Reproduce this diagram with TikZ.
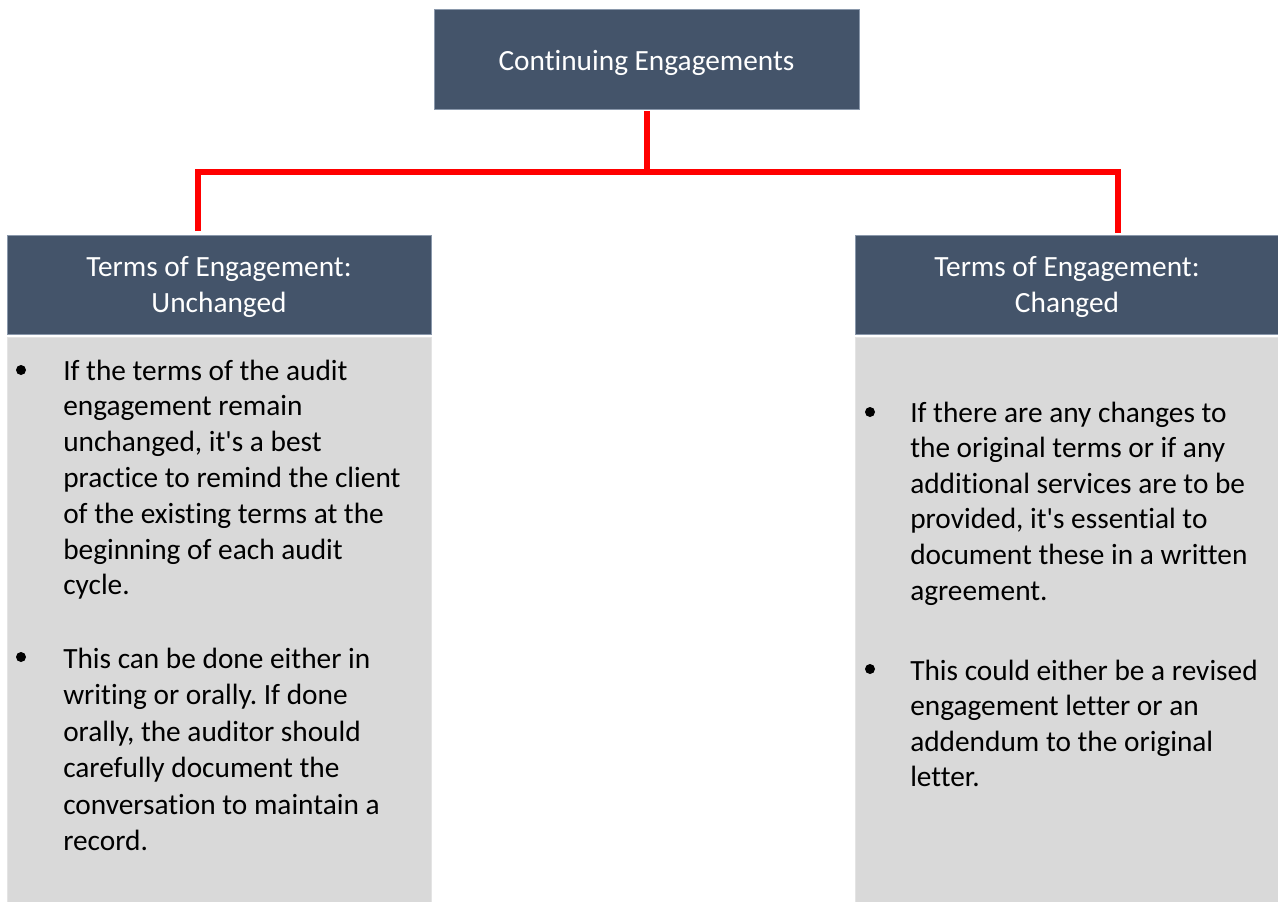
\documentclass[tikz,border=0pt]{standalone}
\usepackage{fontspec}
\setmainfont{Carlito}[Ligatures=NoCommon]
\definecolor{hdr}{HTML}{44546A}
\definecolor{hdredge}{HTML}{8A98AB}
\definecolor{bdy}{HTML}{D9D9D9}
\definecolor{bdyedge}{HTML}{E4E4E4}
\begin{document}
\frenchspacing
\begin{tikzpicture}[x=0.75pt,y=-0.75pt,
  hbox/.style={rectangle, fill=hdr, draw=hdredge, line width=0.6pt, inner sep=0},
  bbox/.style={rectangle, fill=bdy, draw=bdyedge, line width=0.6pt, inner sep=0},
  htext/.style={text=white, font=\fontsize{22}{26}\selectfont, anchor=base, inner sep=0},
  btext/.style={text=black, font=\fontsize{22}{26}\selectfont, anchor=base west, inner sep=0},
  bul/.style={circle, fill=black, minimum size=7.5pt, inner sep=0},
  redline/.style={draw=red, line width=4.1pt}]
\fill[white] (0,0) rectangle (1278,901);
\useasboundingbox (0,0) rectangle (1278,901);

% boxes
\node[hbox, minimum width=318.75pt, minimum height=75pt] (top) at (646.5,59) {};
\node[hbox, minimum width=318pt, minimum height=74.25pt] (lh) at (219,284.5) {};
\node[bbox, minimum width=318pt, minimum height=424.5pt] (lb) at (219,620) {};
\node[hbox, minimum width=318pt, minimum height=74.25pt] (rh) at (1067,284.5) {};
\node[bbox, minimum width=318pt, minimum height=424.5pt] (rb) at (1067,620) {};

% header texts
\node[htext] (toptxt) at (646.5,70) {Continuing Engagements};
\node[htext] (lh1) at (219,276) {Terms of Engagement:};
\node[htext] (lh2) at (219,312) {Unchanged};
\node[htext] (rh1) at (1067,276) {Terms of Engagement:};
\node[htext] (rh2) at (1067,312) {Changed};

% connectors
\coordinate (jm) at (647,172);
\coordinate (jl) at (198,172);
\coordinate (jr) at (1118,172);
\draw[redline] ([yshift=-1.5pt]top.south -| jm) -- (jm);
\draw[redline] ([yshift=3pt]lh.north -| jl) -- (jl) -- (jr) -- ([yshift=1.5pt]rh.north -| jr);

% left bullets
\node[bul] (lb1) at (21,370) {};
\foreach \t [count=\i from 0] in {If the terms of the audit, engagement remain, {unchanged, it\textquotesingle s a best}, practice to remind the client, of the existing terms at the, beginning of each audit, cycle.}
  \node[btext] (la\i) at (63,380+35.8*\i) {\t};
\node[bul] (lb2) at (21,657) {};
\foreach \t [count=\i from 0] in {This can be done either in, writing or orally. If done, {orally, the auditor should}, carefully document the, conversation to maintain a, record.}
  \node[btext] (lc\i) at (63,668+36.5*\i) {\t};

% right bullets
\node[bul] (rb1) at (870,412) {};
\foreach \t [count=\i from 0] in {If there are any changes to, the original terms or if any, additional services are to be, {provided, it\textquotesingle s essential to}, document these in a written, agreement.}
  \node[btext] (ra\i) at (910,422+35.6*\i) {\t};
\node[bul] (rb2) at (870,669) {};
\foreach \t [count=\i from 0] in {This could either be a revised, engagement letter or an, addendum to the original, letter.}
  \node[btext] (rc\i) at (910,680+35.6*\i) {\t};
\end{tikzpicture}
\end{document}
